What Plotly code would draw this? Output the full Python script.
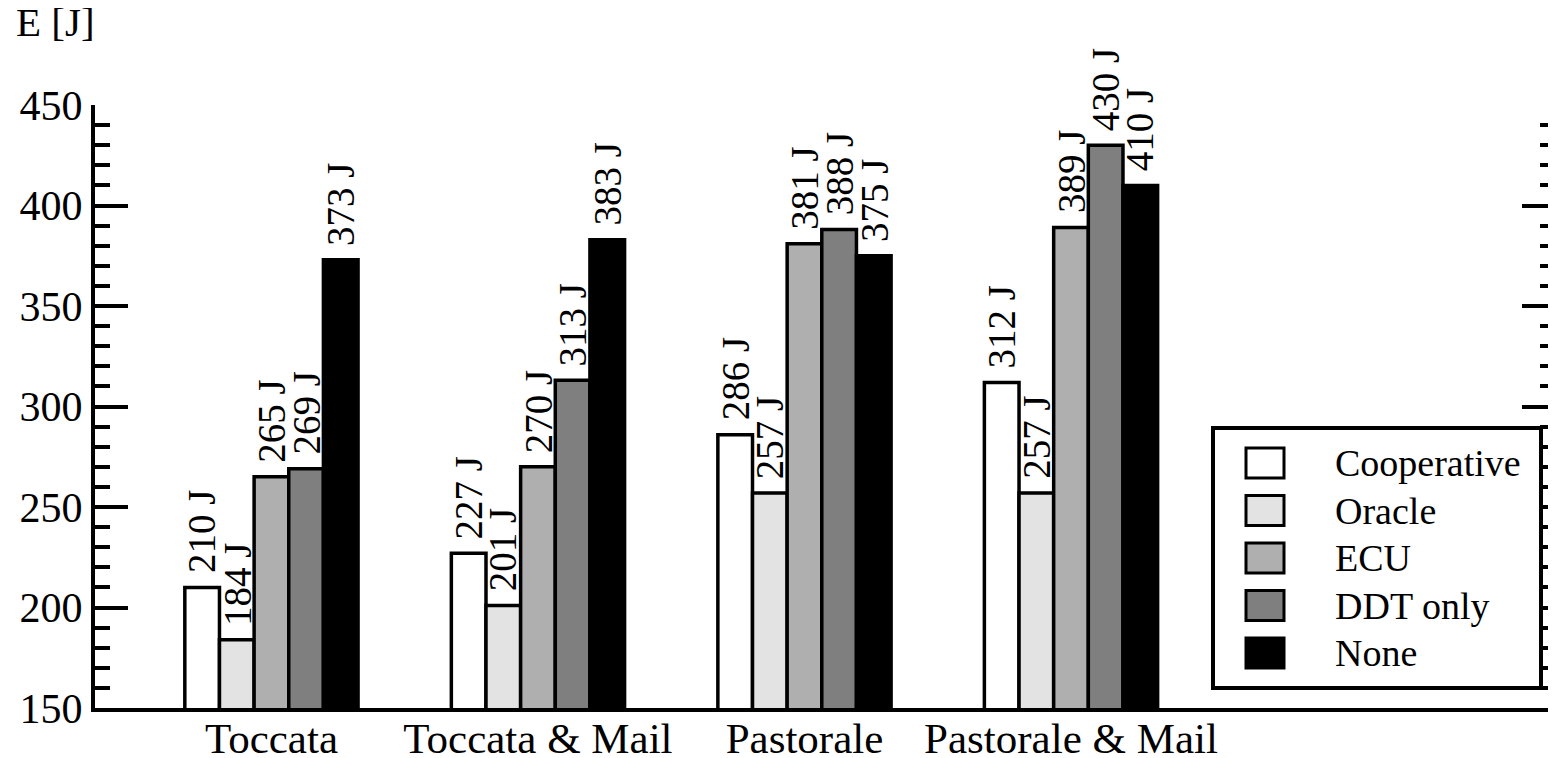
import plotly.graph_objects as go

categories = ["Toccata", "Toccata & Mail", "Pastorale", "Pastorale & Mail"]
series_names = ["Cooperative", "Oracle", "ECU", "DDT only", "None"]
cooperative = [210, 227, 286, 312]
oracle = [184, 201, 257, 257]
ecu = [265, 270, 381, 389]
ddt_only = [269, 313, 388, 430]
none_vals = [373, 383, 375, 410]
series_values = [cooperative, oracle, ecu, ddt_only, none_vals]
colors = ["#ffffff", "#e3e3e3", "#afafaf", "#7f7f7f", "#000000"]

FONT = "Liberation Serif, Times New Roman, Times, DejaVu Serif, serif"

# The page's body has an 8px margin, so the figure is drawn 8px in from the top-left.
OFF = 8
FIG_W, FIG_H = 1556 - OFF, 758 - OFF
ML, MR, MT, MB = 95 - OFF, 1, 105 - OFF, 50
X_RANGE = [-0.662, 4.816]
Y_RANGE = [150, 450]
BARGAP = 0.35
W = FIG_W - ML - MR
H = FIG_H - MT - MB
px_per_cat = W / (X_RANGE[1] - X_RANGE[0])
bar_w_px = px_per_cat * (1 - BARGAP) / len(series_names)

fig = go.Figure()
for i, (name, vals, col) in enumerate(zip(series_names, series_values, colors)):
    fig.add_trace(go.Bar(
        x=categories, y=vals, name=name,
        marker=dict(color=col, line=dict(color="black", width=3.5)),
        showlegend=False,
    ))
    offset = (i - (len(series_names) - 1) / 2) * bar_w_px
    for cat, v in zip(categories, vals):
        fig.add_annotation(x=cat, y=v, xref="x", yref="y", text=f"{v} J",
                           showarrow=False, textangle=-90,
                           xanchor="center", yanchor="bottom",
                           xshift=offset, yshift=12,
                           font=dict(family=FONT, size=39, color="black"))

# invisible trace to activate the right-hand axis
fig.add_trace(go.Scatter(x=[categories[0]], y=[Y_RANGE[0]], yaxis="y2",
                         mode="markers", marker=dict(opacity=0), showlegend=False,
                         hoverinfo="skip"))

tick_common = dict(ticks="inside", ticklen=33, tickwidth=4, tickcolor="black",
                   showgrid=False, zeroline=False, automargin=False,
                   minor=dict(dtick=10, ticks="inside", ticklen=15, tickwidth=4,
                              tickcolor="black", showgrid=False))

fig.update_layout(
    width=FIG_W, height=FIG_H,
    margin=dict(l=ML, r=MR, t=MT, b=MB, autoexpand=False),
    paper_bgcolor="white", plot_bgcolor="white",
    barmode="group", bargap=BARGAP, bargroupgap=0,
    font=dict(family=FONT, size=42, color="black"),
    xaxis=dict(
        range=X_RANGE, showline=True, linecolor="black", linewidth=4,
        ticks="", showgrid=False, zeroline=False, automargin=False,
        ticklabelstandoff=-11,
        tickfont=dict(family=FONT, size=43, color="black"),
    ),
    yaxis=dict(
        range=Y_RANGE, dtick=50, showline=True, linecolor="black", linewidth=4,
        tickfont=dict(family=FONT, size=42, color="black"),
        **tick_common,
    ),
    yaxis2=dict(
        range=Y_RANGE, dtick=50, overlaying="y", side="right",
        showline=True, linecolor="black", linewidth=2, showticklabels=False,
        **tick_common,
    ),
)

def px(xp):
    return (xp - OFF - ML) / W
def py(yp):
    return (FIG_H - MB - (yp - OFF)) / H

# y-axis title
fig.add_annotation(xref="paper", yref="paper", x=px(14), y=py(22),
                   text="E [J]", showarrow=False, xanchor="left", yanchor="middle",
                   font=dict(family=FONT, size=41, color="black"))

# custom legend (large swatches), positions in reference pixels
fig.add_shape(type="rect", xref="paper", yref="paper",
              x0=px(1213), x1=px(1541), y0=py(688), y1=py(428),
              line=dict(color="black", width=4), fillcolor="white", layer="above")
for i, (name, col) in enumerate(zip(series_names, colors)):
    cy = 463 + i * 47.5
    fig.add_shape(type="rect", xref="paper", yref="paper",
                  x0=px(1246), x1=px(1284), y0=py(cy + 15), y1=py(cy - 15),
                  line=dict(color="black", width=3), fillcolor=col, layer="above")
    fig.add_annotation(xref="paper", yref="paper", x=px(1333), y=py(cy),
                       text=name, showarrow=False, xanchor="left", yanchor="middle",
                       font=dict(family=FONT, size=38, color="black"))

fig.write_html("out.html")
